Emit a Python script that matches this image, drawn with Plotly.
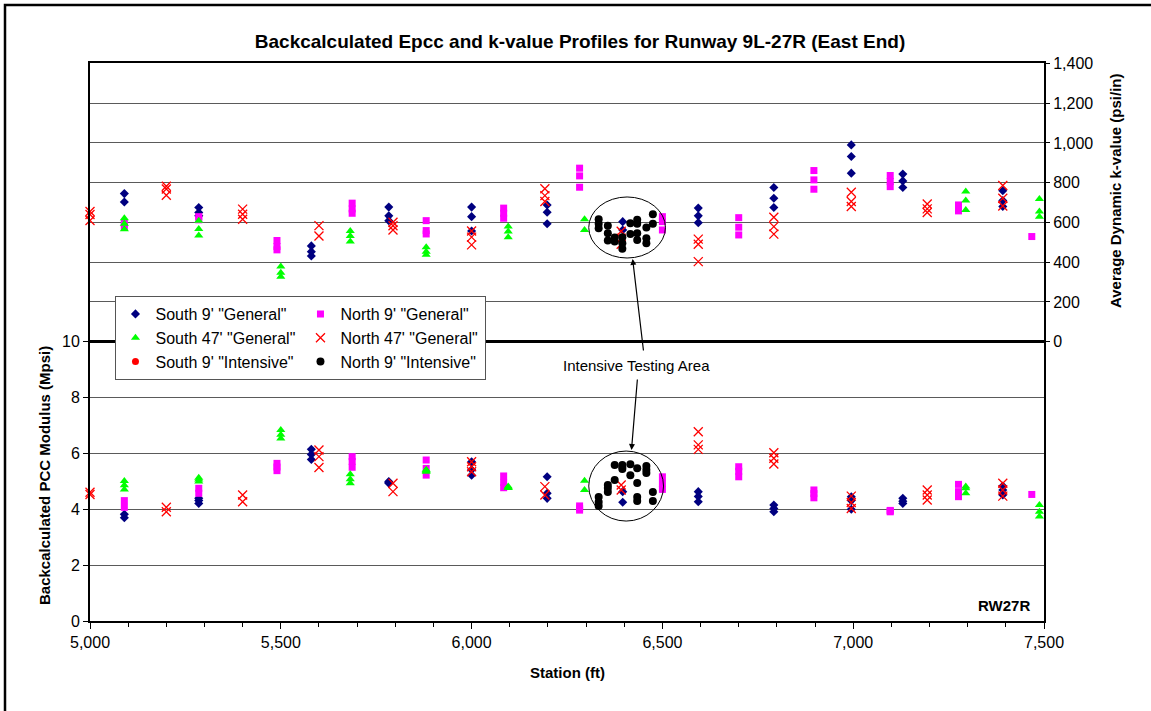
import plotly.graph_objects as go

# ---- data: station groups, backcalculated k-value (psi/in) and Epcc (Mpsi) ----
s9g_sta = [5090, 5285, 5580, 5783, 6000, 6198, 6396, 6594, 6792, 6995, 7130, 7392]
s9g_k = [[745, 703], [675, 650, 633], [482, 453, 431], [677, 633, 609], [677, 629, 557],
         [688, 651, 593], [604, 562], [672, 633, 599], [776, 722, 675], [990, 932, 848],
         [843, 809, 776], [759, 710, 680]]
s9g_e = [[3.81, 3.69], [4.38, 4.30, 4.20], [6.13, 5.95, 5.77], [4.98, 4.95, 4.92],
         [5.69, 5.40, 5.21], [5.15, 4.56, 4.38], [4.62, 4.24], [4.62, 4.45, 4.26],
         [4.14, 4.02, 3.90], [4.44, 4.30, 3.99], [4.38, 4.28, 4.20], [4.82, 4.68, 4.50]]

n9g_sta = [5090, 5285, 5490, 5687, 5881, 6084, 6283, 6500, 6700, 6897, 7097, 7276, 7468]
n9g_k = [[595, 580], [629, 613], [509, 479, 462], [697, 668, 646], [609, 559, 542],
         [672, 646, 621], [873, 834, 777], [629, 604, 562], [624, 576, 537],
         [861, 814, 767], [836, 806, 780], [688, 673, 658], [529]]
n9g_e = [[4.30, 4.06], [4.74, 4.56], [5.63, 5.50, 5.37], [5.87, 5.70, 5.49],
         [5.75, 5.45, 5.21], [5.18, 4.95, 4.76], [4.11, 4.03, 3.96], [5.15, 4.92, 4.70],
         [5.51, 5.35, 5.15], [4.68, 4.55, 4.40], [3.95, 3.93, 3.90], [4.88, 4.62, 4.44],
         [4.52]]

s47g_sta = [5090, 5285, 5500, 5682, 5881, 6096, 6296, 7295, 7488]
s47g_k = [[621, 593, 566], [608, 567, 534], [378, 347, 327], [557, 532, 504],
          [475, 453, 437], [579, 554, 526], [616, 562], [755, 710, 663], [718, 655, 629]]
s47g_e = [[5.00, 4.85, 4.70], [5.12, 5.05, 4.98], [6.82, 6.65, 6.52], [5.24, 5.06, 4.92],
          [5.40, 5.37, 5.33], [4.80, 4.77, 4.75], [5.01, 4.68], [4.80, 4.74, 4.56],
          [4.14, 3.90, 3.73]]

n47g_sta = [5000, 5200, 5400, 5600, 5794, 6000, 6192, 6392, 6594, 6792, 6995, 7194, 7392]
n47g_k = [[655, 640, 610], [782, 768, 737], [667, 641, 616], [584, 532], [601, 583, 562],
          [557, 526, 487], [769, 735, 705], [556, 520, 490], [516, 490, 403],
          [626, 579, 541], [752, 705, 680], [693, 668, 650], [786, 722, 683]]
n47g_e = [[4.60, 4.52], [4.06, 3.90], [4.50, 4.26], [6.11, 5.87, 5.48], [4.92, 4.62],
          [5.69, 5.51, 5.33], [4.80, 4.50], [4.86, 4.68], [6.76, 6.29, 6.13],
          [6.01, 5.81, 5.61], [4.46, 4.23, 4.02], [4.68, 4.50, 4.32], [4.92, 4.68, 4.46]]

# no South 9' intensive results in this section
s9i_sta = []
s9i_k = []
s9i_e = []

n9i_sta = [6333, 6357, 6375, 6395, 6416, 6434, 6458, 6475]
n9i_k = [[616, 593, 571], [583, 546, 509], [524, 504], [526, 495, 467], [596, 542],
         [613, 593, 546, 512], [574, 521, 495], [641, 593]]
n9i_e = [[4.43, 4.25, 4.11], [4.86, 4.75, 4.61], [5.57, 5.04], [5.57, 5.43, 5.50],
         [5.60, 5.21], [5.46, 4.93, 4.43, 4.29], [5.54, 5.29, 5.40], [4.61, 4.29]]

x_ticks = [5000, 5500, 6000, 6500, 7000, 7500]
e_ticks = [0, 2, 4, 6, 8, 10]
k_ticks = [0, 200, 400, 600, 800, 1000, 1200, 1400]

FONT = "Liberation Sans, Arial, sans-serif"


def flatten(stations, groups):
    xs, ys = [], []
    for s, vals in zip(stations, groups):
        for v in vals:
            xs.append(s)
            ys.append(v)
    # keep an (undrawn) placeholder so an empty series still gets its legend key
    if not xs:
        xs, ys = [None], [None]
    return xs, ys


series = [
    # name, stations, k, E, legend group, marker
    ("South 9' \"General\"", s9g_sta, s9g_k, s9g_e, "south",
     dict(symbol="diamond", size=7, color="#000080")),
    ("North 9' \"General\"", n9g_sta, n9g_k, n9g_e, "north",
     dict(symbol="square", size=7, color="#FF00FF")),
    ("South 47' \"General\"", s47g_sta, s47g_k, s47g_e, "south",
     dict(symbol="triangle-up", size=8, color="#00FF00")),
    ("North 47' \"General\"", n47g_sta, n47g_k, n47g_e, "north",
     dict(symbol="x-thin", size=9, color="#FF0000",
          line=dict(color="#FF0000", width=1.3))),
    ("South 9' \"Intensive\"", s9i_sta, s9i_k, s9i_e, "south",
     dict(symbol="circle", size=7, color="#FF0000")),
    ("North 9' \"Intensive\"", n9i_sta, n9i_k, n9i_e, "north",
     dict(symbol="circle", size=8, color="#000000")),
]

fig = go.Figure()
for name, sta, kv, ev, grp, mk in series:
    xe, ye = flatten(sta, ev)
    xk, yk = flatten(sta, kv)
    fig.add_trace(go.Scatter(x=xe, y=ye, mode="markers", name=name, marker=mk,
                             legendgroup=grp, showlegend=True, cliponaxis=False,
                             yaxis="y"))
    fig.add_trace(go.Scatter(x=xk, y=yk, mode="markers", name=name, marker=mk,
                             legendgroup=grp, showlegend=False, cliponaxis=False,
                             yaxis="y2"))

grid_col = "#5a5a5a"
tick_font = dict(family=FONT, size=16, color="#000")

fig.update_layout(
    width=1151, height=711,
    margin=dict(l=90, r=107, t=63, b=90),
    paper_bgcolor="white", plot_bgcolor="white",
    font=dict(family=FONT, size=16, color="#000"),
    title=dict(text="<b>Backcalculated Epcc and k-value Profiles for Runway 9L-27R (East End)</b>",
               x=580 / 1151, xanchor="center", y=1 - 41 / 711, yanchor="middle",
               font=dict(family=FONT, size=19, color="#000")),
    xaxis=dict(range=[5000, 7500], tickvals=x_ticks, tickformat=",d",
               showgrid=False, zeroline=False, showline=True, linecolor="#000",
               linewidth=2, mirror=True, ticks="outside", ticklen=6, tickcolor="#000",
               tickfont=tick_font,
               minor=dict(dtick=100, ticks="outside", ticklen=4, tickcolor="#000",
                          showgrid=False)),
    yaxis=dict(range=[0, 19.93], tickvals=e_ticks, showgrid=True, gridcolor=grid_col,
               gridwidth=1, zeroline=False, showline=True, linecolor="#000", linewidth=2,
               ticks="outside", ticklen=5, tickcolor="#000", tickfont=tick_font),
    yaxis2=dict(range=[-1405, 1402], overlaying="y", side="right", tickvals=k_ticks,
                tickformat=",d", showgrid=True, gridcolor=grid_col, gridwidth=1,
                zeroline=True, zerolinecolor="#000", zerolinewidth=2.5,
                showline=True, linecolor="#000", linewidth=2,
                ticks="outside", ticklen=4, tickcolor="#000", tickfont=tick_font),
    legend=dict(orientation="h", traceorder="grouped", x=0.0267, xanchor="left",
                y=0.5824, yanchor="top", bgcolor="white", bordercolor="#555",
                borderwidth=1, entrywidth=140, tracegroupgap=0,
                font=dict(family=FONT, size=16, color="#000")),
    showlegend=True,
)

# Intensive testing area outlines
fig.add_shape(type="circle", xref="x", yref="y2", x0=6307, x1=6508, y0=421, y1=728,
              line=dict(color="#000", width=1), layer="above")
fig.add_shape(type="circle", xref="x", yref="y", x0=6307, x1=6503, y0=3.57, y1=6.07,
              line=dict(color="#000", width=1), layer="above")

# Outer chart frame
fig.add_shape(type="rect", xref="paper", yref="paper",
              x0=(5 - 90) / 954, x1=(1155 - 90) / 954,
              y0=(621 - 716) / 558, y1=(621 - 5) / 558,
              line=dict(color="#000", width=2.5), layer="above")

annotations = [
    dict(text="Intensive Testing Area", xref="x", yref="y", x=6431, y=9.14,
         showarrow=False, font=dict(family=FONT, size=15, color="#000")),
    dict(text="", xref="x", yref="y2", x=6422, y=416, ax=11, ay=93,
         showarrow=True, arrowhead=2, arrowsize=1, arrowwidth=1.2, arrowcolor="#000"),
    dict(text="", xref="x", yref="y", x=6419, y=6.11, ax=6, ay=-72,
         showarrow=True, arrowhead=2, arrowsize=1, arrowwidth=1.2, arrowcolor="#000"),
    dict(text="<b>RW27R</b>", xref="paper", yref="paper", x=(1032 - 90) / 954,
         y=(621 - 605) / 558, xanchor="right", yanchor="middle", showarrow=False,
         font=dict(family=FONT, size=15, color="#000")),
    dict(text="<b>Station (ft)</b>", xref="paper", yref="paper", x=(567 - 90) / 954,
         y=(621 - 672) / 558, xanchor="center", yanchor="middle", showarrow=False,
         font=dict(family=FONT, size=15, color="#000")),
    dict(text="<b>Backcalculated PCC Modulus (Mpsi)</b>", xref="paper", yref="paper",
         x=(45 - 90) / 954, y=(621 - 476) / 558, xanchor="center", yanchor="middle",
         textangle=-90, showarrow=False, font=dict(family=FONT, size=15, color="#000")),
    dict(text="<b>Average Dynamic k-value (psi/in)</b>", xref="paper", yref="paper",
         x=(1115 - 90) / 954, y=(621 - 191) / 558, xanchor="center", yanchor="middle",
         textangle=-90, showarrow=False, font=dict(family=FONT, size=15, color="#000")),
]
fig.update_layout(annotations=annotations)

fig.write_html("out.html", config={"displayModeBar": False})
